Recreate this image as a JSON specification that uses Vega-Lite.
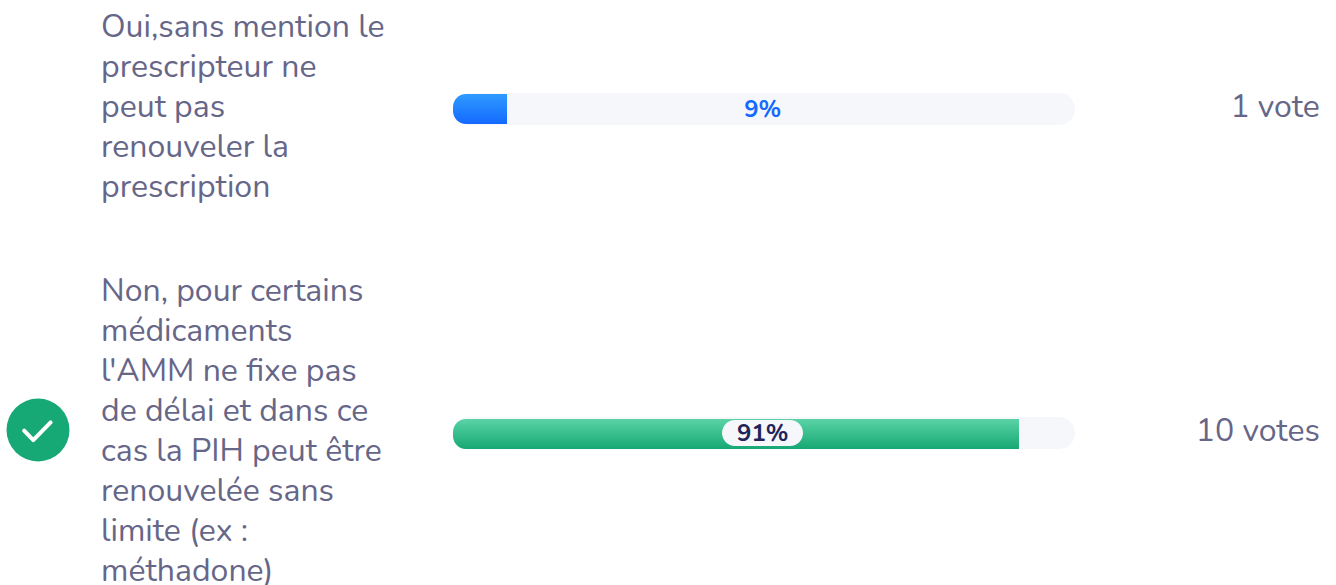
{
"$schema":"https://vega.github.io/schema/vega-lite/v6.json",
"width":622,"height":542,
"autosize":{"type":"none"},
"padding":{"left":453,"top":0,"right":261,"bottom":43},
"background":"#ffffff",
"view":{"stroke":null},
"data":{"values":[
{"answer":"Oui,sans mention le|prescripteur ne|peut pas|renouveler la|prescription","pct":8.7,"total":100,"label":"9%","votes":"1 vote","correct":false},
{"answer":"Non, pour certains|médicaments|l'AMM ne fixe pas|de délai et dans ce|cas la PIH peut être|renouvelée sans|limite (ex :|méthadone)","pct":91,"total":100,"label":"91%","votes":"10 votes","correct":true}
]},
"encoding":{
"y":{"field":"answer","type":"nominal","axis":null,"sort":null,"scale":{"type":"point","padding":0.3364}}
},
"layer":[
{"mark":{"type":"bar","size":32,"cornerRadius":16,"color":"#f5f7fb"},
 "encoding":{"x":{"field":"total","type":"quantitative","axis":null,"scale":{"domain":[0,100],"nice":false}}}},
{"transform":[{"filter":"!datum.correct"}],
 "mark":{"type":"bar","size":30,"cornerRadiusTopLeft":13,"cornerRadiusBottomLeft":13,"color":{"gradient":"linear","x1":0,"y1":0,"x2":0,"y2":1,"stops":[{"offset":0,"color":"#2f9bff"},{"offset":1,"color":"#1469ff"}]}},
 "encoding":{"x":{"field":"pct","type":"quantitative"}}},
{"transform":[{"filter":"datum.correct"}],
 "mark":{"type":"bar","size":30,"yOffset":1,"cornerRadiusTopLeft":13,"cornerRadiusBottomLeft":13,"color":{"gradient":"linear","x1":0,"y1":0,"x2":0,"y2":1,"stops":[{"offset":0,"color":"#5bd3a6"},{"offset":1,"color":"#16a874"}]}},
 "encoding":{"x":{"field":"pct","type":"quantitative"}}},
{"transform":[{"filter":"datum.correct"}],
 "mark":{"type":"point","shape":"M-0.679,-0.321L0.679,-0.321A0.321,0.321 0 0 1 0.679,0.321L-0.679,0.321A0.321,0.321 0 0 1 -0.679,-0.321Z","filled":true,"size":6561,"color":"#f5f7fb","opacity":1},
 "encoding":{"x":{"datum":49.76,"type":"quantitative"}}},
{"mark":{"type":"text","font":"Nunito, Lato, sans-serif","fontSize":24,"fontWeight":"bold","baseline":"middle","align":"center","yOffset":1},
 "encoding":{"x":{"datum":49.8,"type":"quantitative"},"text":{"field":"label"},
 "color":{"condition":{"test":"datum.correct","value":"#1f2559"},"value":"#1469ff"}}},
{"transform":[{"filter":"!datum.correct"}],
 "mark":{"type":"text","font":"Nunito, Lato, sans-serif","fontSize":32,"align":"left","baseline":"middle","lineBreak":"|","lineHeight":40,"color":"#666688","yOffset":-82},
 "encoding":{"x":{"datum":-56.59,"type":"quantitative"},"text":{"field":"answer"}}},
{"transform":[{"filter":"datum.correct"}],
 "mark":{"type":"text","font":"Nunito, Lato, sans-serif","fontSize":32,"align":"left","baseline":"middle","lineBreak":"|","lineHeight":40,"color":"#666688","yOffset":-142},
 "encoding":{"x":{"datum":-56.59,"type":"quantitative"},"text":{"field":"answer"}}},
{"mark":{"type":"text","font":"Nunito, Lato, sans-serif","fontSize":32,"align":"right","baseline":"middle","color":"#666688","yOffset":-2},
 "encoding":{"x":{"datum":139.36,"type":"quantitative"},"text":{"field":"votes"}}},
{"transform":[{"filter":"datum.correct"}],
 "mark":{"type":"point","shape":"circle","filled":true,"size":3969,"color":"#17a975","opacity":1,"yOffset":-3},
 "encoding":{"x":{"datum":-66.72,"type":"quantitative"}}},
{"transform":[{"filter":"datum.correct"}],
 "mark":{"type":"point","shape":"M-0.44,0.02L-0.15,0.32L0.40,-0.24","filled":false,"size":3969,"stroke":"#ffffff","strokeWidth":4,"strokeCap":"round","strokeJoin":"round","opacity":1,"yOffset":-3},
 "encoding":{"x":{"datum":-66.72,"type":"quantitative"}}}
]
}
